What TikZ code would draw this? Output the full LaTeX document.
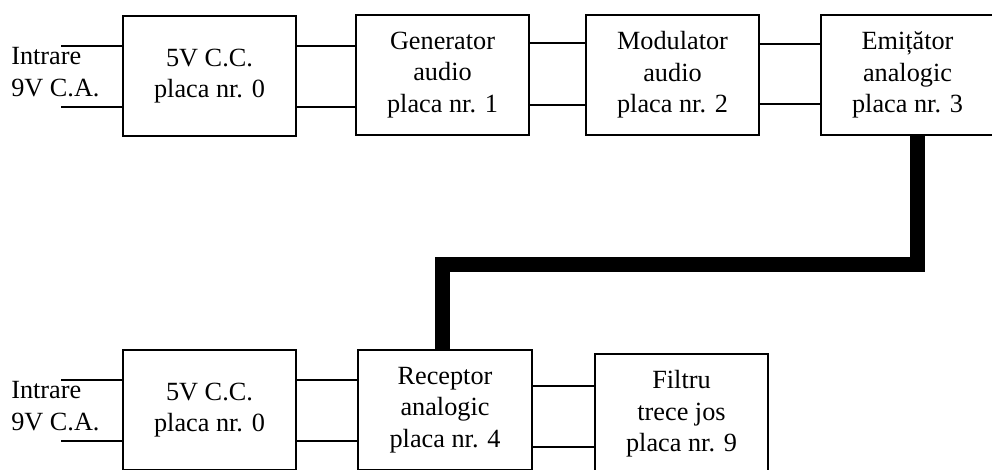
\documentclass[tikz,border=0pt]{standalone}
\usepackage{fontspec}
\setmainfont{Liberation Serif}
\begin{document}
\begin{tikzpicture}[x=0.75pt,y=-0.75pt,
  blk/.style={draw,line width=1.5pt,minimum width=130pt,minimum height=90.5pt,inner sep=0pt,align=center,
    font=\fontsize{19.7}{23.5}\selectfont},
  lbl/.style={align=left,inner sep=0pt,anchor=west,font=\fontsize{19.7}{24.5}\selectfont},
  wire/.style={line width=1.1pt},
  cable/.style={line width=11.25pt,line join=miter,line cap=butt}]
\useasboundingbox (0,0) rectangle (992,470);
\clip (0,0) rectangle (992,470);
% top row
\node[blk] (a0) at (209.5,76) {5V C.C.\\placa nr. 0};
\node[blk] (a1) at (442.5,75) {Generator\\audio\\placa nr. 1};
\node[blk] (a2) at (672.5,75) {Modulator\\audio\\placa nr. 2};
\node[blk] (a3) at (907.5,75) {Emițător\\analogic\\placa nr. 3};
\node[lbl] (ain) at (11,72) {Intrare\\9V C.A.};
\coordinate (ai1) at (61,46);
\coordinate (ai2) at (61,107);
\draw[wire] (ai1) -- (a0.west |- ai1);
\draw[wire] (ai2) -- (a0.west |- ai2);
\draw[wire] (a0.east |- 0,46) -- (a1.west |- 0,46);
\draw[wire] (a0.east |- 0,107) -- (a1.west |- 0,107);
\draw[wire] (a1.east |- 0,43) -- (a2.west |- 0,43);
\draw[wire] (a1.east |- 0,105) -- (a2.west |- 0,105);
\draw[wire] (a2.east |- 0,44) -- (a3.west |- 0,44);
\draw[wire] (a2.east |- 0,104) -- (a3.west |- 0,104);
% bottom row
\node[blk] (b0) at (209.5,410) {5V C.C.\\placa nr. 0};
\node[blk] (b1) at (445,410) {Receptor\\analogic\\placa nr. 4};
\node[blk] (b2) at (681.5,414) {Filtru\\trece jos\\placa nr. 9};
\node[lbl] (bin) at (11,406) {Intrare\\9V C.A.};
\coordinate (bi1) at (61,380);
\coordinate (bi2) at (61,441);
\draw[wire] (bi1) -- (b0.west |- bi1);
\draw[wire] (bi2) -- (b0.west |- bi2);
\draw[wire] (b0.east |- 0,380) -- (b1.west |- 0,380);
\draw[wire] (b0.east |- 0,441) -- (b1.west |- 0,441);
\draw[wire] (b1.east |- 0,386) -- (b2.west |- 0,386);
\draw[wire] (b1.east |- 0,447) -- (b2.west |- 0,447);
% cable
\coordinate (c1) at (917,265);
\coordinate (c2) at (442,265);
\draw[cable] (a3.south -| c1) -- (c1) -- (c2) -- (b1.north -| c2);
\end{tikzpicture}
\end{document}
